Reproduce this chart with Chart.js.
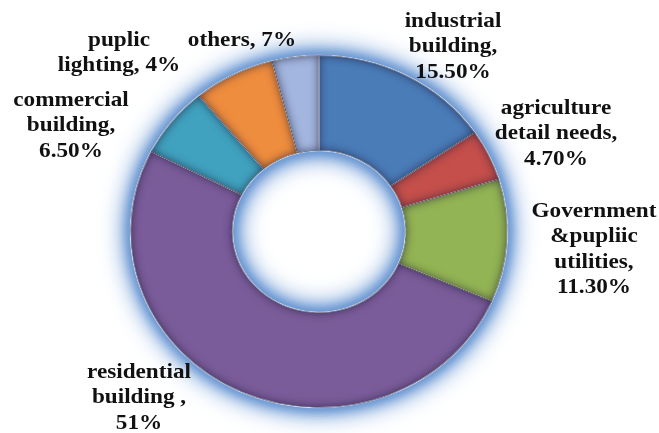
<!DOCTYPE html>
<html>
<head>
<meta charset="utf-8">
<script src="https://cdn.jsdelivr.net/npm/chart.js@4"></script>
<style>
  body { margin: 0; background: #fff; }
  #wrap { width: 659px; height: 433px; }
</style>
</head>
<body>
<div id="wrap"><canvas id="pieChart" width="659" height="433"></canvas></div>
<script>
// energy use shares by sector, in percent (clockwise from the top)
const categories = ['industrial building', 'agriculture detail needs', 'Government &pupliic utilities',
    'residential building', 'commercial building', 'others', 'puplic lighting'];
const shares = [15.5, 4.7, 11.3, 51, 6.5, 7, 4];

// how each slice name is broken into lines, and whether the value gets its own line
const nameLines = [
    ['industrial', 'building,'],
    ['agriculture', 'detail needs,'],
    ['Government', '&pupliic', 'utilities,'],
    ['residential', 'building ,'],
    ['commercial', 'building,'],
    ['others,'],
    ['puplic', 'lighting,']
];
const valueOnOwnLine = [true, true, true, true, true, false, false];

var colors = ['#4a7cb8', '#c44f4b', '#93b454', '#7a5c9a', '#40a2bf', '#ef8d3e', '#a2b6df'];

// where each label block sits: centre x, centre of first line
var labelSpots = [[453, 21], [556, 108], [594, 211], [139, 372], [71, 100], [242, 40], [119, 40]];
var lineHeight = 25.5;
var stretchX = 1.07;

// pick the first serif face that is really there
var serifFaces = ['Liberation Serif', 'Times New Roman', 'Tinos', 'Nimbus Roman', 'FreeSerif', 'DejaVu Serif'];
var labelFace = 'serif';
var textStretch = stretchX;
(function() {
    var c = document.createElement('canvas').getContext('2d');
    var probe = 'Government &pupliic 11.30%';
    c.font = 'bold 22px monospace';
    var mono = c.measureText(probe).width;
    c.font = 'bold 22px sans-serif';
    var sans = c.measureText(probe).width;
    for (var i = 0; i < serifFaces.length; i++) {
        c.font = 'bold 22px "' + serifFaces[i] + '", monospace';
        var w1 = c.measureText(probe).width;
        c.font = 'bold 22px "' + serifFaces[i] + '", sans-serif';
        var w2 = c.measureText(probe).width;
        if (w1 !== mono || w2 !== sans) { labelFace = serifFaces[i]; break; }
    }
    // "Government" is about 125px wide in the set type
    c.font = 'bold 22px "' + labelFace + '", serif';
    textStretch = 125 / c.measureText('Government').width;
})();
var labelFont = 'bold 22px "' + labelFace + '", serif';

function fmtPct(v) {
    return (v % 1 === 0 ? v.toFixed(0) : v.toFixed(2)) + '%';
}

function arcPath(ctx, a) {
    ctx.moveTo(a.x + Math.cos(a.startAngle) * a.outerRadius, a.y + Math.sin(a.startAngle) * a.outerRadius);
    ctx.arc(a.x, a.y, a.outerRadius, a.startAngle, a.endAngle);
    ctx.arc(a.x, a.y, a.innerRadius, a.endAngle, a.startAngle, true);
    ctx.closePath();
}

// glow behind the ring, bevelled slice edges and the outside labels
var ringLook = {
    id: 'ringLook',
    beforeDatasetsDraw(chart) {
        var ctx = chart.ctx;
        var a0 = chart.getDatasetMeta(0).data[0].getProps(['x', 'y', 'innerRadius', 'outerRadius'], true);
        ctx.save();
        ctx.translate(a0.x, a0.y);
        ctx.scale(stretchX, 1);
        ctx.translate(-a0.x, -a0.y);

        ctx.save();
        ctx.fillStyle = '#8fb0da';
        ctx.beginPath();
        ctx.arc(a0.x, a0.y, a0.outerRadius + 1, 0, Math.PI * 2);
        ctx.moveTo(a0.x + a0.innerRadius - 1, a0.y);
        ctx.arc(a0.x, a0.y, a0.innerRadius - 1, 0, Math.PI * 2);
        ctx.shadowColor = 'rgba(105,150,210,1)';
        [30, 22, 14, 8].forEach(function(b) {
            ctx.shadowBlur = b;
            ctx.fill('evenodd');
        });
        ctx.restore();
    },
    afterDatasetsDraw(chart) {
        var ctx = chart.ctx;
        chart.getDatasetMeta(0).data.forEach(function(el) {
            var a = el.getProps(['x', 'y', 'startAngle', 'endAngle', 'innerRadius', 'outerRadius'], true);
            ctx.save();
            ctx.beginPath();
            arcPath(ctx, a);
            ctx.clip();
            // inner shadow: fill everything outside the slice, keep only its shadow
            ctx.beginPath();
            ctx.rect(a.x - 1000, a.y - 1000, 2000, 2000);
            arcPath(ctx, a);
            ctx.shadowColor = 'rgba(25,20,50,0.7)';
            ctx.shadowBlur = 10;
            ctx.fillStyle = '#000';
            ctx.fill('evenodd');
            ctx.restore();
        });
        ctx.restore();
    },
    afterDraw(chart) {
        var ctx = chart.ctx;
        ctx.save();
        ctx.font = labelFont;
        ctx.fillStyle = '#111';
        ctx.textAlign = 'center';
        ctx.textBaseline = 'middle';
        shares.forEach(function(v, i) {
            var lines = nameLines[i].slice();
            if (valueOnOwnLine[i]) {
                lines.push(fmtPct(v));
            } else {
                lines[lines.length - 1] += ' ' + fmtPct(v);
            }
            ctx.save();
            ctx.translate(labelSpots[i][0], labelSpots[i][1]);
            ctx.scale(textStretch, 1);
            lines.forEach(function(t, k) {
                ctx.fillText(t, 0, k * lineHeight);
            });
            ctx.restore();
        });
        ctx.restore();
    }
};

var canvas = document.getElementById('pieChart');
var myChart = new Chart(canvas, {
    type: 'doughnut',
    data: {
        labels: categories,
        datasets: [{
            data: shares,
            backgroundColor: colors,
            borderColor: 'rgba(255,255,255,0.8)',
            borderWidth: 1
        }]
    },
    options: {
        responsive: false,
        animation: false,
        radius: 176,
        cutout: '46%',
        layout: { padding: { left: 140, right: 161, top: 53, bottom: 23 } },
        plugins: {
            legend: { display: false },
            tooltip: { enabled: false }
        }
    },
    plugins: [ringLook]
});
</script>
</body>
</html>
